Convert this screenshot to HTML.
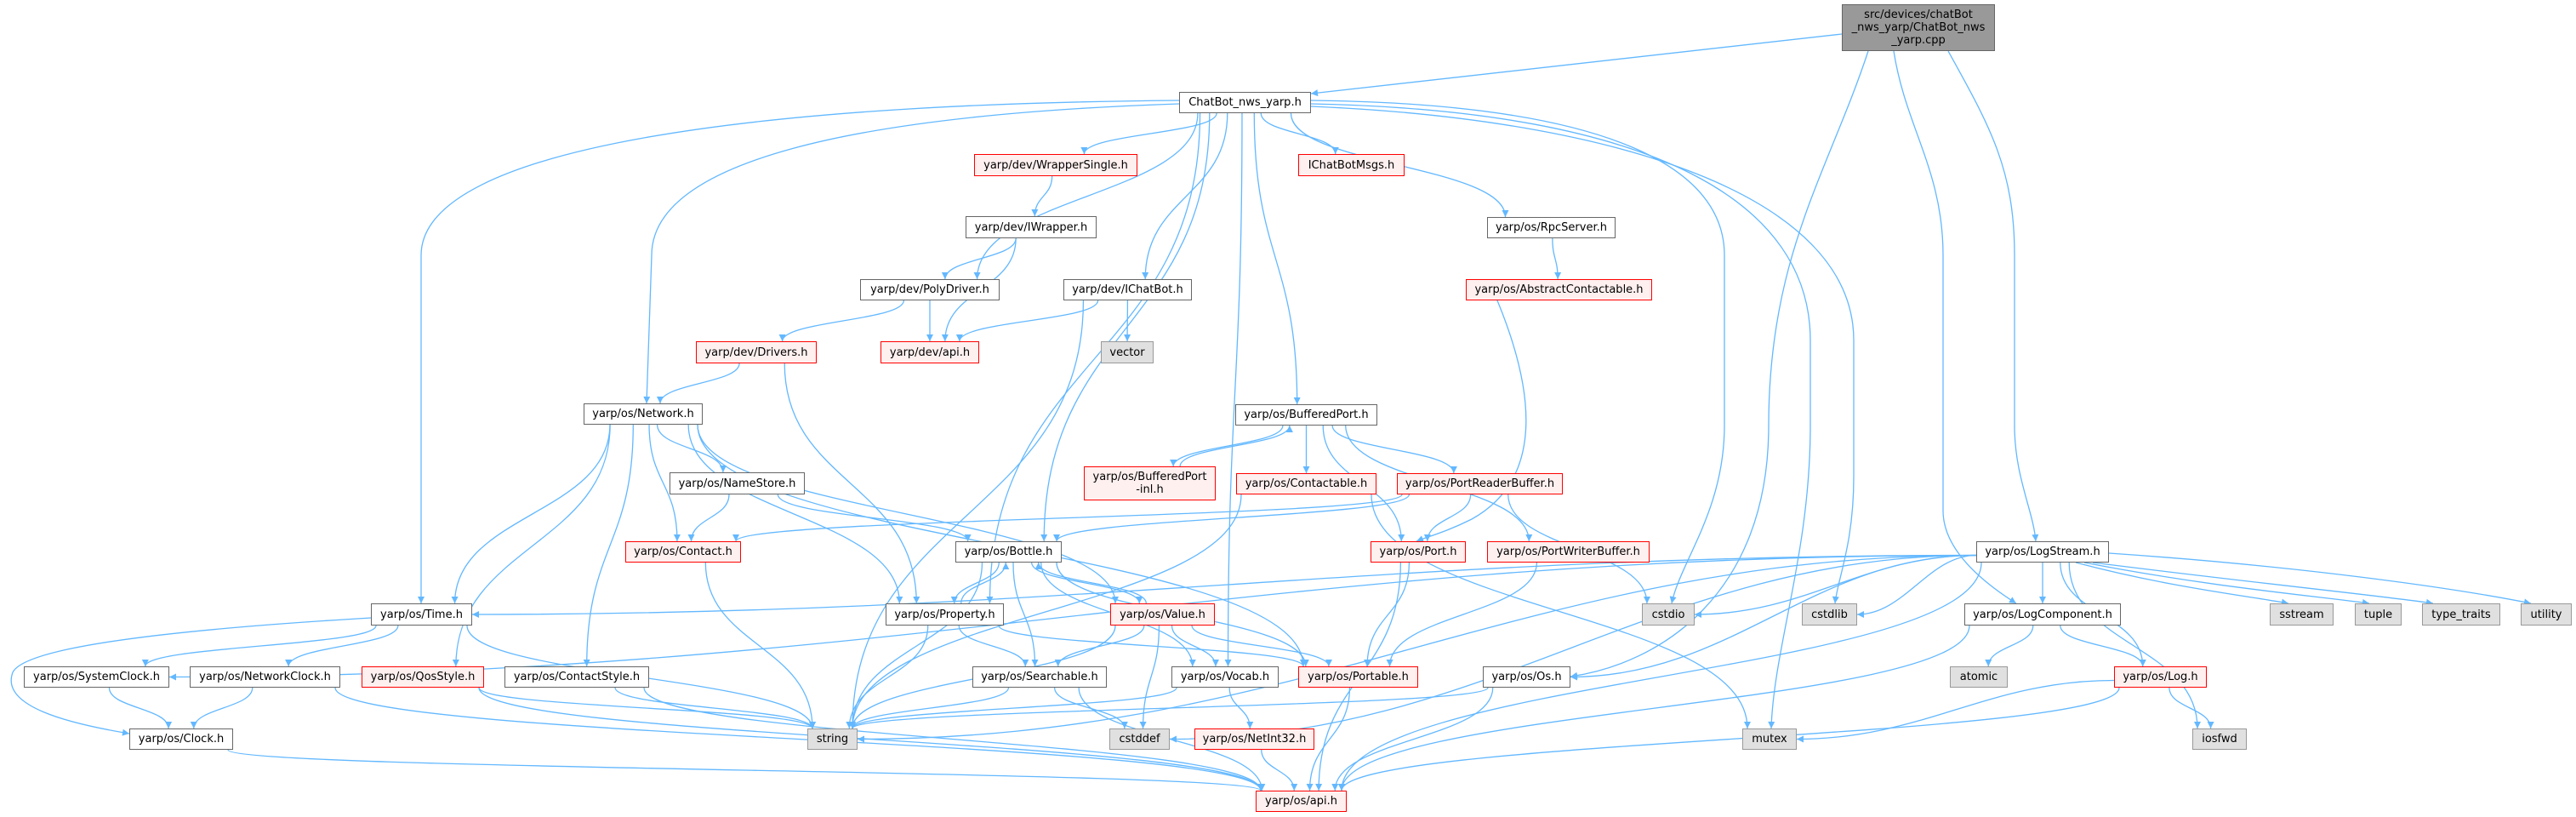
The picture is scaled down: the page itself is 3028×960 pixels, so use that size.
<!DOCTYPE html>
<html><head><meta charset="utf-8">
<style>
html,body{margin:0;padding:0;background:#fff;}
#wrap{position:relative;width:3028px;height:960px;overflow:hidden;background:#fff;}
svg{position:absolute;left:0;top:0;}
.n{position:absolute;box-sizing:border-box;border:1.5px solid #666;background:#fff;font-family:"DejaVu Sans","Liberation Sans",sans-serif;font-size:13px;color:#000;display:flex;align-items:center;justify-content:center;text-align:center;white-space:nowrap;line-height:15px;}
.r{border-color:#f00;background:#fff0f0;}
.g{border-color:#999;background:#e0e0e0;}
.c{border-color:#666;background:#999;white-space:normal;line-height:15px;padding:0 6px;}
</style></head><body>
<div id="wrap">
<svg id="edges" width="3028" height="960" xmlns="http://www.w3.org/2000/svg">
<defs><marker id="ah" viewBox="0 0 10 10" refX="10" refY="5" markerWidth="11" markerHeight="8" markerUnits="userSpaceOnUse" orient="auto"><path d="M0,0 L10,5 L0,10 z" fill="#63b8ff"/></marker></defs>
<g id="eg" fill="none" stroke="#63b8ff" stroke-width="1.3"></g>
</svg>
<div class="n c" style="left:2165px;top:5px;width:180px;height:55px;">src/devices/chatBot<br>_nws_yarp/ChatBot_nws<br>_yarp.cpp</div>
<div class="n" style="left:1386px;top:108px;width:155px;height:25px;">ChatBot_nws_yarp.h</div>
<div class="n r" style="left:1145px;top:181px;width:192px;height:26px;">yarp/dev/WrapperSingle.h</div>
<div class="n r" style="left:1526px;top:181px;width:125px;height:26px;">IChatBotMsgs.h</div>
<div class="n" style="left:1135px;top:254px;width:154px;height:26px;">yarp/dev/IWrapper.h</div>
<div class="n" style="left:1748px;top:255px;width:151px;height:25px;">yarp/os/RpcServer.h</div>
<div class="n" style="left:1011px;top:328px;width:164px;height:25px;">yarp/dev/PolyDriver.h</div>
<div class="n" style="left:1250px;top:328px;width:151px;height:25px;">yarp/dev/IChatBot.h</div>
<div class="n r" style="left:1723px;top:328px;width:219px;height:25px;">yarp/os/AbstractContactable.h</div>
<div class="n r" style="left:1035px;top:401px;width:116px;height:26px;">yarp/dev/api.h</div>
<div class="n g" style="left:1294px;top:401px;width:62px;height:26px;">vector</div>
<div class="n r" style="left:818px;top:401px;width:142px;height:26px;">yarp/dev/Drivers.h</div>
<div class="n" style="left:686px;top:474px;width:140px;height:25px;">yarp/os/Network.h</div>
<div class="n" style="left:1452px;top:475px;width:167px;height:25px;">yarp/os/BufferedPort.h</div>
<div class="n r" style="left:1274px;top:548px;width:155px;height:40px;">yarp/os/BufferedPort<br>-inl.h</div>
<div class="n r" style="left:1453px;top:556px;width:165px;height:25px;">yarp/os/Contactable.h</div>
<div class="n r" style="left:1642px;top:556px;width:195px;height:25px;">yarp/os/PortReaderBuffer.h</div>
<div class="n" style="left:787px;top:555px;width:159px;height:26px;">yarp/os/NameStore.h</div>
<div class="n r" style="left:735px;top:636px;width:136px;height:25px;">yarp/os/Contact.h</div>
<div class="n" style="left:1123px;top:636px;width:125px;height:25px;">yarp/os/Bottle.h</div>
<div class="n r" style="left:1611px;top:636px;width:112px;height:25px;">yarp/os/Port.h</div>
<div class="n r" style="left:1748px;top:636px;width:191px;height:25px;">yarp/os/PortWriterBuffer.h</div>
<div class="n" style="left:2323px;top:636px;width:156px;height:25px;">yarp/os/LogStream.h</div>
<div class="n" style="left:436px;top:709px;width:119px;height:26px;">yarp/os/Time.h</div>
<div class="n" style="left:1041px;top:709px;width:139px;height:26px;">yarp/os/Property.h</div>
<div class="n r" style="left:1305px;top:709px;width:123px;height:26px;">yarp/os/Value.h</div>
<div class="n g" style="left:1930px;top:709px;width:62px;height:26px;">cstdio</div>
<div class="n g" style="left:2118px;top:709px;width:65px;height:26px;">cstdlib</div>
<div class="n" style="left:2309px;top:709px;width:184px;height:26px;">yarp/os/LogComponent.h</div>
<div class="n g" style="left:2668px;top:709px;width:75px;height:26px;">sstream</div>
<div class="n g" style="left:2768px;top:709px;width:55px;height:26px;">tuple</div>
<div class="n g" style="left:2847px;top:709px;width:92px;height:26px;">type_traits</div>
<div class="n g" style="left:2963px;top:709px;width:60px;height:26px;">utility</div>
<div class="n" style="left:28px;top:783px;width:171px;height:25px;">yarp/os/SystemClock.h</div>
<div class="n" style="left:223px;top:783px;width:177px;height:25px;">yarp/os/NetworkClock.h</div>
<div class="n r" style="left:425px;top:783px;width:144px;height:25px;">yarp/os/QosStyle.h</div>
<div class="n" style="left:593px;top:783px;width:170px;height:25px;">yarp/os/ContactStyle.h</div>
<div class="n" style="left:1143px;top:783px;width:158px;height:25px;">yarp/os/Searchable.h</div>
<div class="n" style="left:1377px;top:783px;width:126px;height:25px;">yarp/os/Vocab.h</div>
<div class="n r" style="left:1526px;top:783px;width:141px;height:25px;">yarp/os/Portable.h</div>
<div class="n" style="left:1743px;top:783px;width:103px;height:25px;">yarp/os/Os.h</div>
<div class="n g" style="left:2292px;top:783px;width:68px;height:25px;">atomic</div>
<div class="n r" style="left:2485px;top:783px;width:109px;height:25px;">yarp/os/Log.h</div>
<div class="n" style="left:152px;top:856px;width:122px;height:25px;">yarp/os/Clock.h</div>
<div class="n g" style="left:949px;top:856px;width:59px;height:25px;">string</div>
<div class="n g" style="left:1304px;top:856px;width:71px;height:25px;">cstddef</div>
<div class="n r" style="left:1404px;top:856px;width:141px;height:25px;">yarp/os/NetInt32.h</div>
<div class="n g" style="left:2048px;top:856px;width:64px;height:25px;">mutex</div>
<div class="n g" style="left:2577px;top:856px;width:64px;height:25px;">iosfwd</div>
<div class="n r" style="left:1476px;top:929px;width:107px;height:25px;">yarp/os/api.h</div>
</div>
<script>
var N={cpp:[2165,2345,5,60],cb:[1386,1541,108,133],ws:[1145,1337,181,207],msg:[1526,1651,181,207],iw:[1135,1289,254,280],rpc:[1748,1899,255,280],pd:[1011,1175,328,353],ic:[1250,1401,328,353],ac:[1723,1942,328,353],dapi:[1035,1151,401,427],vec:[1294,1356,401,427],drv:[818,960,401,427],net:[686,826,474,499],bp:[1452,1619,475,500],bpi:[1274,1429,548,588],cta:[1453,1618,556,581],prb:[1642,1837,556,581],ns:[787,946,555,581],con:[735,871,636,661],bot:[1123,1248,636,661],port:[1611,1723,636,661],pwb:[1748,1939,636,661],ls:[2323,2479,636,661],time:[436,555,709,735],prop:[1041,1180,709,735],val:[1305,1428,709,735],cstdio:[1930,1992,709,735],cstdlib:[2118,2183,709,735],lc:[2309,2493,709,735],ss:[2668,2743,709,735],tup:[2768,2823,709,735],tt:[2847,2939,709,735],ut:[2963,3023,709,735],sc:[28,199,783,808],nc:[223,400,783,808],qos:[425,569,783,808],cs:[593,763,783,808],sea:[1143,1301,783,808],voc:[1377,1503,783,808],pbl:[1526,1667,783,808],os:[1743,1846,783,808],atom:[2292,2360,783,808],log:[2485,2594,783,808],clk:[152,274,856,881],str:[949,1008,856,881],cdef:[1304,1375,856,881],ni:[1404,1545,856,881],mtx:[2048,2112,856,881],iof:[2577,2641,856,881],api:[1476,1583,929,954]};
var C={
"cpp cb":"M2165,40 L1541,110",
"cb time":"M1386,118 C900,122 495,170 495,300 L495,709",
"cb net":"M1386,122 C1000,135 766,190 766,300 L760,474",
"cb cstdio":"M1541,118 C1900,122 2027,200 2027,300 L2027,500 C2027,600 1975,660 1965,709",
"cb mtx":"M1541,122 C1950,130 2128,240 2128,400 L2128,500 C2128,650 2085,760 2082,856",
"cb cstdlib":"M1541,125 C1900,140 2179,230 2179,400 L2179,560 C2179,640 2160,680 2157,709",
"cpp os":"M2196,60 C2150,200 2079,300 2079,500 C2079,700 1950,780 1846,795",
"cpp lc":"M2226,60 C2240,150 2284,200 2284,300 L2284,600 C2284,650 2340,690 2370,709",
"cpp ls":"M2290,60 C2340,150 2368,200 2368,300 L2368,500 C2368,560 2390,600 2393,636",
"time clk":"M436,726 C200,740 30,760 15,790 C0,830 80,850 152,862",
"ac port":"M1760,353 C1800,450 1820,560 1730,610 C1700,625 1680,630 1665,636",
"ls ss":"M2440,661 C2550,690 2640,700 2690,709",
"ls tup":"M2450,661 C2600,690 2720,700 2785,709",
"ls tt":"M2460,661 C2650,685 2800,700 2860,709",
"ls ut":"M2479,650 C2700,665 2880,690 2975,709"
};
var SIDE={"ls time":1,"ls sc":1,"ls str":1,"ls cstdio":1,"ls cstdlib":1,"ls os":1,"log mtx":1,"ls cdef":1,"lc api":0};
var E="cpp cb,cpp os,cpp lc,cpp ls,cb ws,cb msg,cb rpc,cb pd,cb ic,cb bp,cb bot,cb net,cb time,cb cstdio,cb cstdlib,cb mtx,cb prop,cb voc,ws iw,iw pd,iw dapi,pd dapi,pd drv,ic dapi,ic vec,ic str,rpc ac,ac port,drv net,drv prop,net time,net ns,net con,net prop,net val,net pbl,net qos,net cs,ns con,ns bot,bp bpi,bpi bp,bp cta,bp prb,bp port,bp pwb,cta str,cta mtx,prb con,prb bot,prb port,prb cstdio,port pbl,port api,pwb pbl,con str,bot prop,prop bot,bot val,val bot,bot sea,bot voc,bot pbl,bot str,prop str,prop sea,prop pbl,val str,val sea,val voc,val cdef,val pbl,sea str,sea cdef,sea api,voc str,voc ni,ni api,pbl api,time sc,time nc,time clk,time str,sc clk,nc clk,nc api,qos str,qos api,cs str,cs api,clk api,os str,os api,ls time,ls sc,ls str,ls cstdio,ls cstdlib,ls lc,ls log,ls iof,ls ss,ls tup,ls tt,ls ut,ls api,ls os,ls cdef,lc atom,lc log,lc api,log mtx,log iof,log api".split(",");
var g=document.getElementById("eg"),s="";
function cl(v,a,b){return Math.max(a,Math.min(b,v));}
E.forEach(function(e){var p=e.split(" "),a=N[p[0]],b=N[p[1]];
if(C[e]){s+='<path d="'+C[e]+'" marker-end="url(#ah)"/>';return;}
var acx=(a[0]+a[1])/2,bcx=(b[0]+b[1])/2,sx,sy,ex,ey,d,dx=bcx-acx,dy=b[2]-a[3];
if(SIDE[e]){
 var amy=(a[2]+a[3])/2,bmy=(b[2]+b[3])/2;
 if(dx<0){sx=a[0];ex=b[1];}else{sx=a[1];ex=b[0];}
 sy=amy+(bmy>amy?4:0); ey=bmy;
 var h=(ex-sx)*0.4;
 s+='<path d="M'+sx+','+sy+' C'+(sx+h)+','+sy+' '+(ex-h)+','+ey+' '+ex+','+ey+'" marker-end="url(#ah)"/>';return;}
if(b[2]>=a[3]-2){sx=cl(acx+dx*0.15,a[0]+6,a[1]-6);sy=a[3];ex=cl(bcx-dx*0.15,b[0]+6,b[1]-6);ey=b[2];d=(ey-sy)*0.5;}
else{sx=cl(acx+dx*0.15,a[0]+6,a[1]-6)+8;sy=a[2];ex=cl(bcx-dx*0.15,b[0]+6,b[1]-6)+8;ey=b[3];d=(ey-sy)*0.5;}
s+='<path d="M'+sx+','+sy+' C'+sx+','+(sy+d)+' '+ex+','+(ey-d)+' '+ex+','+ey+'" marker-end="url(#ah)"/>';});
g.innerHTML=s;
</script>
</body></html>
